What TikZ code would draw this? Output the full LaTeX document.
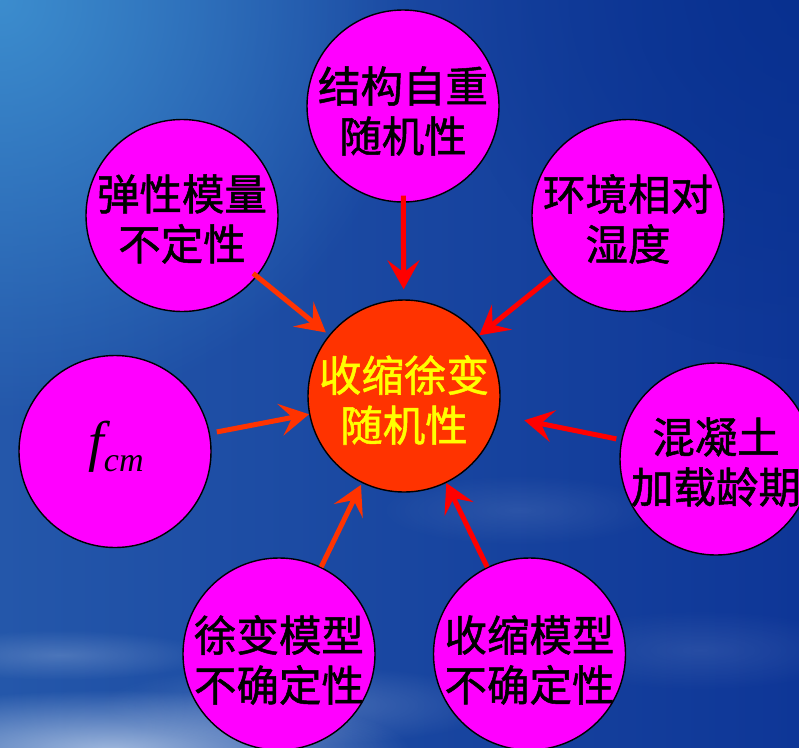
\documentclass[tikz,border=0pt]{standalone}
\usepackage{fontspec}
\newfontfamily\cjk[FakeBold=1.2]{Noto Sans CJK SC}
\newfontfamily\tnr{Liberation Serif}
\usetikzlibrary{arrows.meta,fadings}
\definecolor{skyLeft}{HTML}{2457AA}
\definecolor{skyRight}{HTML}{0E3697}
\definecolor{skyHi}{HTML}{3C8DCE}
\definecolor{skyDeep}{HTML}{08308F}
\definecolor{cloud}{HTML}{C8D8EE}
\definecolor{mag}{HTML}{FF00FF}
\definecolor{hub}{HTML}{FF3300}
\definecolor{redA}{HTML}{FF0000}
\definecolor{redB}{HTML}{FF3300}
\definecolor{hubtext}{HTML}{FFFF00}
\tikzfading[name=softdisc, inner color=transparent!0, outer color=transparent!100]
\begin{document}
\begin{tikzpicture}[x=1pt,y=-1pt,
  bubble/.style={circle, draw=black, line width=1.4pt, fill=mag, minimum size=192pt, inner sep=0pt},
  hubnode/.style={circle, draw=black, line width=1.4pt, fill=hub, minimum size=192pt, inner sep=0pt},
  lbl/.style={font=\cjk\fontsize{42.5}{50}\selectfont, align=center, text=black},
  hublbl/.style={font=\cjk\fontsize{42.5}{50}\selectfont, align=center, text=hubtext},
  arr/.style={line width=5pt, -{Stealth[length=29pt, width=32pt, inset=12pt]}}]
\useasboundingbox (0,0) rectangle (799,747);
% background sky
\begin{scope}
\clip (0,0) rectangle (799,747);
\shade[left color=skyLeft, right color=skyRight] (0,0) rectangle (799,747);
\fill[skyHi, path fading=softdisc] (0,0) circle (420);
\fill[skyDeep, path fading=softdisc] (820,-20) circle (380);
\fill[cloud, opacity=0.75, path fading=softdisc] (110,750) ellipse (300 and 60);
\fill[cloud, opacity=0.25, path fading=softdisc] (60,655) ellipse (150 and 25);
\fill[cloud, opacity=0.25, path fading=softdisc] (300,705) ellipse (200 and 40);
\fill[cloud, opacity=0.12, path fading=softdisc] (520,510) ellipse (140 and 35);
\fill[cloud, opacity=0.12, path fading=softdisc] (700,650) ellipse (160 and 40);
\end{scope}
% nodes
\node[hubnode] (cen) at (404,396) {};
\node[hublbl] (cent) at (404,400) {收缩徐变\\随机性};
\node[bubble] (top) at (403,106) {};
\node[lbl] (topt) at (403,111) {结构自重\\随机性};
\node[bubble] (ul) at (182,215.5) {};
\node[lbl] (ult) at (182,219) {弹性模量\\不定性};
\node[bubble] (ur) at (628,215.5) {};
\node[lbl] (urt) at (628,219) {环境相对\\湿度};
\node[bubble] (lft) at (115,451.5) {};
\node[font=\tnr\itshape\fontsize{56}{56}\selectfont, inner sep=0pt] (lftt) at (116,447) {f\raisebox{-11pt}{\fontsize{34}{34}\selectfont cm}};
\node[bubble] (rgt) at (716,459) {};
\node[lbl] (rgtt) at (716,462) {混凝土\\加载龄期};
\node[bubble] (bl) at (279,654) {};
\node[lbl] (blt) at (279,660) {徐变模型\\不确定性};
\node[bubble] (br) at (529.5,654) {};
\node[lbl] (brt) at (529.5,660) {收缩模型\\不确定性};
% arrows
\draw[arr, redA, shorten <=-7pt, shorten >=10pt] (top) -- (cen);
\draw[arr, redB, shorten <=-5pt, shorten >=4pt] (ul) -- (cen);
\draw[arr, redA, shorten <=1pt, shorten >=0pt] (ur) -- (cen);
\draw[arr, redB, shorten <=7pt, shorten >=0pt] (lft) -- (cen);
\draw[arr, redA, shorten <=5pt, shorten >=26pt] (rgt) -- (cen);
\draw[arr, redB, shorten <=0pt, shorten >=2pt] (bl) -- (cen);
\draw[arr, redA, shorten <=0pt, shorten >=0pt] (br) -- (cen);
\end{tikzpicture}
\end{document}
